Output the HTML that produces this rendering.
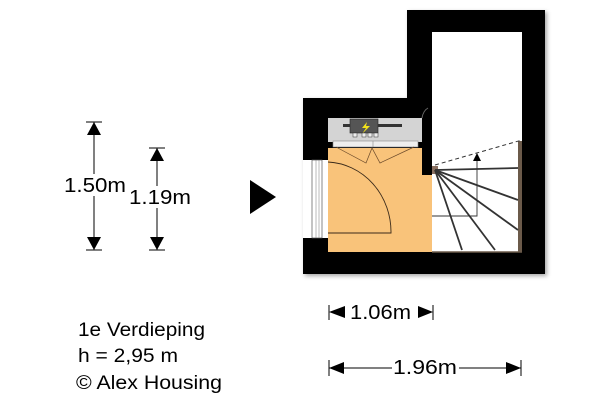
<!DOCTYPE html>
<html><head><style>
html,body{margin:0;padding:0;background:#fff;}
svg{display:block;}
text{font-family:"Liberation Sans",Arial,sans-serif;fill:#000;}
</style></head><body>
<svg width="600" height="400" viewBox="0 0 600 400" xmlns="http://www.w3.org/2000/svg">
<defs>
<filter id="sh" x="-10%" y="-10%" width="130%" height="130%"><feDropShadow dx="2" dy="2" stdDeviation="2" flood-color="#000" flood-opacity="0.35"/></filter>
</defs>
<g filter="url(#sh)">
<rect x="407" y="10" width="138" height="264" fill="#000"/>
<rect x="303" y="98" width="130" height="176" fill="#000"/>
</g>
<rect x="432" y="32" width="90" height="220" fill="#fff"/>
<rect x="328" y="118" width="94" height="24" fill="#d4d4d4"/>
<rect x="333" y="141" width="85" height="6" fill="#eee" stroke="#888" stroke-width="0.6"/>
<line x1="373" y1="141" x2="373" y2="147" stroke="#888" stroke-width="0.6"/>
<rect x="328" y="148" width="104" height="104" fill="#f9c37a"/>
<rect x="422" y="118" width="10" height="57" fill="#000"/>
<rect x="303" y="160" width="25" height="78" fill="#fff"/>
<rect x="312" y="160" width="10" height="78" fill="none" stroke="#555" stroke-width="0.7"/>
<line x1="316" y1="160" x2="316" y2="238" stroke="#777" stroke-width="0.5"/>
<line x1="319" y1="160" x2="319" y2="238" stroke="#777" stroke-width="0.5"/>
<path d="M328 162 A66 70 0 0 1 391 233 L328 233" fill="none" stroke="#3a2a1a" stroke-width="0.9"/>
<path d="M336 147 L366 163 L372 148 L380 163 L414 147" fill="none" stroke="#6b4a2a" stroke-width="0.7"/>
<rect x="350" y="119" width="28" height="14" fill="#555" stroke="#222" stroke-width="0.6"/>
<path d="M367 122 L362 128 L366 128 L362 134 L370 126 L366 126 Z" fill="#f2e21a"/>
<rect x="378" y="124" width="24" height="3" fill="#333"/>
<rect x="343" y="124" width="7" height="3" fill="#333"/>
<g fill="#eee" stroke="#333" stroke-width="0.5">
<rect x="353" y="133" width="4" height="4"/><rect x="362" y="133" width="4" height="4"/><rect x="368" y="133" width="4" height="4"/><rect x="374" y="133" width="4" height="4"/>
</g>
<path d="M428 108 A10 14 0 0 0 422 118" fill="none" stroke="#666" stroke-width="1"/>
<rect x="432" y="144" width="86" height="108" fill="#fff"/>
<rect x="518" y="141" width="4" height="111" fill="#6b5a4a"/>
<line x1="432" y1="252" x2="522" y2="252" stroke="#6b5a4a" stroke-width="1.5"/>
<rect x="432" y="166" width="6" height="8" fill="#8a7060"/>
<g stroke="#333" stroke-width="1.8" fill="none">
<line x1="435" y1="170" x2="462" y2="250"/>
<line x1="435" y1="170" x2="495" y2="250"/>
<line x1="435" y1="170" x2="518" y2="230"/>
<line x1="435" y1="170" x2="518" y2="200"/>
<line x1="435" y1="170" x2="518" y2="168"/>
</g>
<path d="M435 165 L522 140" stroke="#333" stroke-dasharray="4,3" fill="none"/>
<path d="M432 216 L477 216 L477 158" fill="none" stroke="#333" stroke-width="0.9"/>
<polygon points="473,161 481,161 477,153" fill="#000"/>
<g stroke="#000" stroke-width="1">
<line x1="94" y1="122" x2="94" y2="250"/><line x1="86" y1="122" x2="102" y2="122"/><line x1="86" y1="250" x2="102" y2="250"/>
<line x1="157" y1="148" x2="157" y2="250"/><line x1="149" y1="148" x2="165" y2="148"/><line x1="149" y1="250" x2="165" y2="250"/>
</g>
<polygon points="87,135 101,135 94,122" /><polygon points="87,237 101,237 94,250"/>
<polygon points="150,161 164,161 157,148"/><polygon points="150,237 164,237 157,250"/>
<rect x="64" y="174" width="62" height="22" fill="#fff"/>
<text x="64" y="192" font-size="20" textLength="62" lengthAdjust="spacingAndGlyphs">1.50m</text>
<rect x="129" y="186" width="62" height="22" fill="#fff"/>
<text x="129" y="204" font-size="20" textLength="62" lengthAdjust="spacingAndGlyphs">1.19m</text>
<polygon points="250,180 276,197 250,214"/>
<g stroke="#000" stroke-width="1">
<line x1="329" y1="305" x2="329" y2="320"/><line x1="433" y1="305" x2="433" y2="320"/>
<line x1="329" y1="368" x2="521" y2="368"/><line x1="329" y1="360" x2="329" y2="376"/><line x1="521" y1="360" x2="521" y2="376"/>
</g>
<polygon points="329,312 345,306 345,318"/><polygon points="433,312 418,306 418,318"/>
<polygon points="329,368 344,362 344,374"/><polygon points="521,368 506,362 506,374"/>
<text x="350" y="319" font-size="20" textLength="61" lengthAdjust="spacingAndGlyphs">1.06m</text>
<rect x="392" y="356" width="67" height="20" fill="#fff"/>
<text x="393" y="374" font-size="20" textLength="64" lengthAdjust="spacingAndGlyphs">1.96m</text>
<text x="78" y="336" font-size="19" textLength="127" lengthAdjust="spacingAndGlyphs">1e Verdieping</text>
<text x="78" y="362" font-size="19" textLength="100" lengthAdjust="spacingAndGlyphs">h = 2,95 m</text>
<text x="76" y="389" font-size="19" textLength="146" lengthAdjust="spacingAndGlyphs">© Alex Housing</text>
</svg>
</body></html>
